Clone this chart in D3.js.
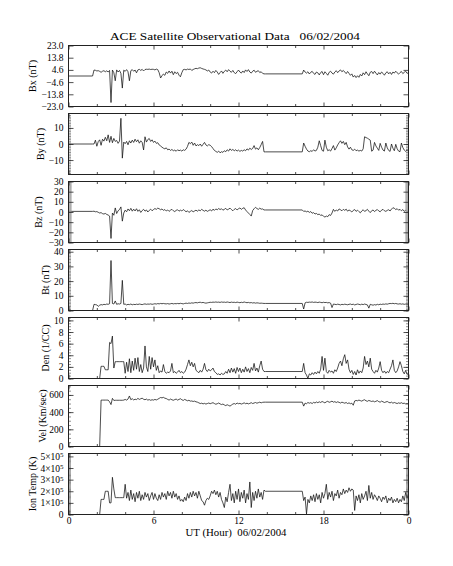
<!DOCTYPE html>
<html>
<head>
<meta charset="utf-8">
<script src="https://cdn.jsdelivr.net/npm/d3@7"></script>
<style>
    body { margin: 0; background: #fff; }
    svg { display: block; }
    text { font-family: "Liberation Serif", "DejaVu Serif", serif; fill: #000; }
</style>
</head>
<body>
<div id="chart"></div>
<script>
var step = 0.1,
    magStart = 1.7,     // first value of each "A" array is the flat fill before data start
    plasmaStart = 2.2,
    partBStart = 16.5;  // after the data gap

var hourTicks = [0, 6, 12, 18, 24],
    hourMinorTicks = [2, 4, 8, 10, 14, 16, 20, 22];

// Bx (nT)
var bxA = [0, 4.5, 4.3, 3.8, 4.0, 3.5, 2.8, 3.6, 4.0, 3.2,
    3.9, 3.0, 4.2, -20, 4.5, 2.5, -3.6, 4.6, 3.0, 4.2,
    2.0, -9.1, 4.4, 3.5, 4.8, 3.2, -3.6, 4.0, 4.8, 3.6,
    4.5, 2.4, 4.6, 5.0, 4.2, 5.0, 3.8, 4.9, 5.1, 5.0,
    5.2, 4.9, 5.1, 5.0, 4.6, 5.2, 4.8, 2.5, -1.5, 0.2,
    1.5, 0.5, 3.0, 2.0, 3.8, 2.2, 3.6, 1.0, 3.2, 1.8,
    2.8, 0.6, -0.6, 2.5, 4.8, 5.0, 4.6, 5.2, 4.9, 5.3,
    4.2, 4.9, 5.4, 5.8, 5.5, 6.0, 6.2, 5.7, 5.3, 5.0,
    4.6, 3.8, 4.5, 3.0, 2.2, 3.6, 2.5, 4.2, 3.0, 1.2,
    2.6, 3.8, 2.0, 3.5, 4.5, 3.2, 4.8, 3.6, 2.8, 4.2,
    2.5, 1.8, 3.2, 4.5, 3.0, 2.2, 3.8, 2.6, 4.6, 3.4,
    4.8, 3.0, 2.2, 3.6, 4.4, 2.8, 3.5, 4.0, 2.6, 3.2,
    2.0, 1.6, 1.6];
var bxB = [1.6, 4.5, 3.0, 2.2, 3.2, 1.5, 2.8, 3.5, 2.0, 1.2,
    3.0, 2.4, 0.8, 2.6, 3.4, 1.0, 3.2, 2.0, 0.6, 2.8,
    3.6, 2.2, 1.4, 3.0, 4.0, 2.5, 3.8, 4.6, 3.2, 4.2,
    3.0, 1.8, 3.4, 2.0, 0.5, 1.6, -0.8, 0.4, -1.2, 0.2,
    -1.0, 1.2, 0.0, 2.4, 1.0, 3.2, 1.6, 0.2, 2.8, 3.4,
    1.8, 3.6, 2.2, 0.8, 2.6, 1.4, 3.0, 2.0, 0.6, 2.4,
    3.2, 1.6, 2.8, 1.2, 3.0, 2.2, 3.6, 2.4, 1.4, 2.6,
    3.4, 1.8, 2.8, 3.6, 2.0, 2.6];

// By (nT)
var byA = [0, 0, 2.4, -1.4, 1.5, 2.6, -0.8, 3.0, 1.8, 4.2,
    2.0, 5.7, 1.0, 4.8, 0.8, 3.5, 1.6, 2.2, 0.4, 1.8,
    16, -8.8, 1.2, 0.2, 1.6, -0.5, 2.0, 0.6, 2.4, 1.0,
    3.0, 1.4, 2.6, 0.5, 2.0, 1.0, -3.7, 4.5, 1.2, 2.8,
    3.4, 1.6, 2.6, 1.0, 1.8, 0.4, 0.8, -0.6, -1.2, -2.0,
    -2.6, -3.0, -2.4, -3.6, -3.2, -4.0, -3.4, -4.2, -3.8, -4.5,
    -3.6, -4.2, -3.8, -4.4, -3.6, -4.0, -3.2, -1.5, 1.0, 0.2,
    1.2, -0.8, 0.6, -1.2, -0.4, -1.0, 0.0, -1.4, -0.2, 1.0,
    -0.6, -1.2, -0.4, -0.8, -1.6, -2.8, -4.0, -4.6, -5.2, -4.4,
    -5.5, -4.8, -5.2, -4.2, -4.8, -3.6, -4.4, -3.0, -4.0, -3.4,
    -4.2, -3.6, -4.4, -3.8, -4.6, -4.0, -4.4, -3.6, -4.2, -3.0,
    -3.8, -2.6, -3.4, -2.8, -1.0, -3.2, -2.4, -3.6, -2.2, -0.4,
    1.6, -4.9, -4.9];
var byB = [-4.9, 0.6, -1.4, -3.2, -4.4, -4.8, -4.2, -4.6, -3.6, -4.4,
    -4.0, -2.0, 2.0, -1.0, -4.0, -4.5, 2.4, -2.0, -4.2, -3.6,
    -4.4, -2.8, -1.0, -3.8, -2.4, -0.6, 0.8, 2.0, 0.4, 1.6,
    -0.4, 1.0, -1.8, -3.2, -2.0, -3.6, -4.0, -3.2, -4.2, -3.8,
    -4.4, -4.0, -4.4, -3.0, 4.5, 4.0, 3.6, 3.0, 2.4, -4.5,
    -3.8, 1.0, -1.2, -2.6, -4.0, 0.4, -2.0, -3.8, -4.4, 0.6,
    -2.4, -4.0, -4.6, 0.0, -2.6, -4.2, -0.2, -3.0, -4.4, -4.8,
    0.6, -2.2, -3.8, -4.6, -3.6, -4.5];

// Bz (nT)
var bzA = [0.6, 0.8, 0.2, 0.4, -0.3, -1.0, -0.6, -1.6, -2.0, -1.4,
    -2.4, -3.0, -4.0, -26, -1.0, -3.2, 4.0, -1.5, 1.2, 2.4,
    5.0, -9.0, -1.0, 1.8, 0.2, 3.0, 1.2, 3.6, 0.8, 2.8,
    1.0, 3.2, 0.6, 2.2, -0.4, 1.4, 2.6, 0.8, 2.0, 0.0,
    1.6, 2.8, 1.2, 2.4, 3.4, 2.6, 3.8, 3.2, 2.2, 3.0,
    1.6, 2.4, 1.0, 2.0, 0.6, 1.8, 2.6, 1.2, 0.4, 1.6,
    2.2, 0.8, 1.8, 1.0, 2.4, 1.4, 0.2, 1.2, -0.4, 0.6,
    1.4, 0.2, 1.0, 1.8, 0.8, 2.0, 1.2, 2.6, 1.6, 0.8,
    1.8, 0.6, 1.4, 2.2, 1.0, 2.8, 1.6, 3.0, 2.2, 3.4,
    2.4, 3.2, 1.8, 2.6, 3.6, 2.0, 2.8, 3.8, 2.4, 1.2,
    2.6, 3.4, 2.0, 3.2, 4.0, 2.6, 3.6, 4.2, 2.0, 0.4,
    -1.0, -2.4, -4.0, 1.4, 3.2, 4.6, 3.4, 2.6, 3.8, 2.8,
    3.0, 2.0, 2.0];
var bzB = [2.0, 0.6, 1.0, 0.2, 0.8, -0.4, 0.4, -1.2, -0.6, -2.0,
    -1.4, -2.6, -2.0, -3.4, -2.8, -4.2, -5.0, -4.0, -4.6, -2.6,
    -3.4, -1.0, 2.6, 0.6, 2.0, 1.0, 3.0, 2.2, 1.2, 2.6,
    1.6, 2.8, 0.8, 2.0, 1.2, 0.0, 1.6, 2.4, 0.6, 1.8,
    0.4, -0.8, 1.0, 2.2, 0.6, 1.4, 2.6, 0.8, -0.6, 1.2,
    2.0, 0.4, 1.6, 2.4, 1.0, 0.2, 1.8, 2.6, 1.2, 0.6,
    1.6, 2.2, 1.0, 2.8, 4.2, 3.6, 2.4, 3.2, 1.8, 2.6,
    1.2, 2.4, 0.6, 1.8, 0.4, 1.4];

// Bt (nT)
var btA = [0, 4.2, 4.0, 3.8, 2.8, 3.6, 4.0, 3.8, 4.2, 4.0,
    4.4, 4.2, 4.6, 34, 4.8, 4.4, 6.5, 4.2, 4.6, 4.4,
    4.8, 20.5, 4.2, 4.4, 3.8, 4.2, 4.0, 4.4, 3.9, 4.2,
    4.0, 4.3, 4.1, 4.4, 4.2, 4.0, 4.3, 4.5, 4.2, 4.4,
    4.3, 4.5, 4.2, 4.4, 4.6, 4.4, 4.7, 4.5, 4.8, 4.6,
    4.8, 4.6, 4.5, 4.7, 4.4, 4.6, 4.8, 4.5, 4.7, 4.6,
    4.8, 4.6, 4.9, 4.7, 4.5, 4.8, 5.0, 4.8, 5.1, 4.9,
    5.2, 5.0, 5.3, 5.4, 5.2, 5.5, 5.6, 5.3, 5.5, 5.2,
    5.0, 5.2, 5.4, 5.6, 5.5, 5.7, 5.6, 5.8, 5.6, 5.7,
    5.5, 5.8, 5.6, 5.7, 5.5, 5.8, 5.6, 5.4, 5.7, 5.5,
    5.6, 5.4, 5.7, 5.5, 5.3, 5.6, 5.4, 5.8, 5.5, 5.3,
    5.5, 5.2, 5.4, 5.1, 5.3, 5.0, 5.2, 5.1, 4.9, 5.0,
    4.9, 4.8, 4.8];
var btB = [4.8, 1.0, 5.2, 5.6, 5.5, 5.7, 5.6, 5.8, 5.5, 5.7,
    5.6, 5.4, 5.7, 5.5, 5.3, 5.6, 5.4, 5.5, 5.2, 5.4,
    5.0, 2.0, 4.4, 4.2, 4.0, 4.3, 4.1, 3.8, 4.2, 4.0,
    4.3, 4.1, 3.9, 4.2, 4.4, 4.0, 4.3, 3.8, 4.1, 4.4,
    4.2, 3.9, 4.3, 4.0, 4.4, 4.1, 3.8, 1.6, 4.2, 3.9,
    3.6, 4.0, 3.7, 4.2, 3.9, 4.3, 4.1, 4.4, 4.2, 4.5,
    4.3, 4.6, 4.8, 4.7, 4.9, 4.6, 4.8, 4.5, 4.4, 4.6,
    4.3, 4.5, 4.2, 4.4, 4.3, 4.3];

// Density (1/cc)
var denA = [0, 2.1, 2.1, 2.1, 1.5, 1.5, 1.5, 6.2, 6.0, 7.3,
    1.8, 2.9, 2.9, 2.9, 2.9, 2.9, 2.9, 2.9, 0.9, 2.8,
    1.2, 3.4, 1.0, 3.0, 1.4, 3.5, 1.6, 3.6, 1.2, 2.4,
    1.0, 1.8, 5.6, 2.0, 1.2, 3.8, 1.6, 3.6, 2.0, 3.2,
    1.4, 2.2, 1.0, 1.3, 1.1, 2.4, 1.2, 0.9, 1.1, 1.0,
    1.3, 2.6, 1.0, 1.2, 0.9, 1.1, 1.4, 1.0, 1.2, 0.9,
    1.1, 1.6, 2.4, 3.2, 2.2, 2.8, 2.0, 2.6, 1.4, 1.2,
    1.0, 1.4, 1.1, 1.6, 2.6, 1.5, 1.2, 1.6, 1.3, 1.5,
    1.8, 1.2, 1.0, 0.7, 0.8, 0.6, 0.9, 0.7, 0.8, 1.2,
    0.9, 1.6, 1.0, 1.8, 1.1, 1.7, 0.9, 1.9, 1.2, 1.8,
    1.0, 1.6, 1.1, 2.0, 1.2, 1.7, 1.0, 1.9, 1.4, 2.6,
    1.3, 1.8, 1.1, 2.2, 3.0, 1.6, 1.2, 1.2];
var denB = [1.2, 2.6, 1.0, 0.6, 0.0, 0.8, 0.6, 1.0, 0.7, 1.1,
    0.8, 1.2, 0.9, 1.6, 3.8, 1.4, 3.5, 1.2, 0.9, 1.4,
    1.1, 1.3, 0.9, 1.5, 1.2, 1.8, 2.6, 3.0, 2.2, 3.4,
    4.1, 2.6, 3.2, 1.6, 1.0, 1.4, 0.7, 1.2, 0.6, 1.5,
    0.9, 1.3, 1.0, 1.8, 3.8, 2.4, 3.0, 2.0, 3.5, 1.6,
    1.2, 0.9, 1.4, 1.1, 1.8, 2.9, 1.4, 1.0, 1.3, 0.9,
    1.2, 1.0, 1.6, 2.2, 3.2, 1.4, 1.0, 1.3, 2.0, 2.9,
    2.2, 1.2, 0.8, 1.4, 0.7, 0.9];

// Velocity (km/s)
var velA = [0, 540, 540, 540, 540, 540, 540, 520, 488, 560,
    536, 538, 538, 538, 538, 538, 538, 540, 548, 540,
    552, 588, 545, 556, 542, 550, 546, 560, 548, 556,
    562, 550, 544, 552, 540, 546, 538, 544, 540, 548,
    542, 550, 560, 570, 566, 572, 562, 558, 548, 540,
    552, 544, 538, 546, 552, 540, 548, 556, 544, 536,
    548, 540, 532, 538, 528, 530, 524, 528, 520, 516,
    508, 500, 504, 496, 502, 494, 500, 506, 498, 504,
    510, 500, 492, 498, 506, 496, 488, 494, 484, 476,
    486, 478, 470, 482, 494, 500, 492, 506, 498, 502,
    494, 500, 508, 498, 504, 496, 502, 510, 500, 506,
    512, 504, 510, 516, 508, 514, 516, 516];
var velB = [516, 470, 505, 498, 512, 504, 510, 500, 514, 506,
    518, 510, 520, 512, 524, 516, 508, 520, 526, 514,
    520, 528, 516, 522, 512, 520, 514, 506, 516, 510,
    504, 512, 500, 508, 498, 504, 480, 530, 536, 532,
    540, 534, 528, 538, 544, 532, 526, 536, 530, 524,
    530, 520, 526, 534, 522, 516, 528, 520, 512, 518,
    524, 514, 508, 516, 504, 512, 506, 500, 508, 502,
    510, 500, 504, 496, 500, 496];

// Ion temperature (x 10^5 K)
var tempA = [0, 1.3, 1.3, 1.3, 2.0, 2.0, 2.0, 1.0, 1.0, 3.2,
    2.2, 1.45, 1.45, 1.45, 1.45, 1.45, 1.45, 1.45, 2.6, 1.4,
    1.9, 1.2, 2.1, 1.3, 1.8, 1.1, 1.9, 1.4, 2.0, 1.2,
    1.7, 1.3, 1.9, 1.5, 1.8, 1.2, 1.6, 1.9, 1.3, 1.8,
    1.4, 1.2, 1.7, 1.3, 1.9, 1.5, 1.8, 1.3, 2.0, 1.6,
    1.9, 1.4, 2.0, 1.5, 1.8, 1.3, 1.6, 1.15, 1.3, 1.1,
    1.5, 1.2, 1.8, 1.4, 1.9, 1.5, 2.0, 1.6, 1.9, 1.4,
    2.0, 1.6, 1.2, 1.1, 0.8, 1.2, 1.4, 1.3, 1.6, 2.0,
    1.8, 2.1, 1.7, 2.0, 1.5, 1.9, 1.3, 1.0, 0.6, 1.5,
    1.1, 1.9, 2.6, 1.2, 1.8, 1.0, 2.0, 1.3, 2.2, 1.1,
    1.9, 1.4, 2.1, 1.0, 1.8, 1.3, 2.8, 0.6, 1.9, 1.2,
    2.0, 1.4, 2.2, 1.5, 1.9, 1.3, 2.1, 2.0];
var tempB = [2.0, 1.2, 1.5, 0.05, 1.3, 1.0, 1.6, 1.2, 1.7, 1.1,
    1.8, 1.3, 1.7, 1.0, 1.9, 1.4, 1.8, 2.6, 1.3, 1.9,
    1.5, 2.0, 1.2, 1.8, 1.6, 2.1, 1.4, 1.9, 1.7, 2.2,
    1.8, 2.1, 1.9, 2.3, 2.0, 2.2, 2.1, 0.35, 1.6, 1.2,
    1.7, 1.0, 1.8, 1.3, 1.6, 2.0, 1.2, 2.5, 1.4, 1.9,
    1.3, 1.7, 1.5, 1.2, 1.6, 1.4, 1.1, 1.5, 1.3, 1.6,
    1.0, 1.4, 1.2, 1.5, 1.0, 1.3, 1.1, 1.4, 1.0, 1.3,
    1.1, 1.6, 1.2, 1.9, 1.4, 1.8];

var bxTicks = [-23, -13.8, -4.6, 4.6, 13.8, 23],
    byTicks = [-10, 0, 10],
    bzTicks = [-30, -20, -10, 0, 10, 20, 30],
    btTicks = [0, 10, 20, 30, 40],
    denTicks = [0, 2, 4, 6, 8, 10],
    velTicks = [0, 200, 400, 600],
    tempTicks = [0, 1, 2, 3, 4, 5];

function series( a, start, b ){
    var pts = [ [ 0, a[ 0 ] ] ];
    a.forEach( ( v, i ) => pts.push( [ start + i * step, v ] ) );
    b.forEach( ( v, i ) => pts.push( [ partBStart + i * step, v ] ) );
    return pts;
}

function minors( lo, hi, by ){
    return d3.range( Math.round( ( hi - lo ) / by ) + 1 ).map( i => +( lo + i * by ).toFixed( 3 ) );
}

var panels = [
    { title: 'Bx (nT)', pts: series( bxA, magStart, bxB ), domain: [ -23, 23 ], ticks: bxTicks, minor: [], fmt: d3.format( '.1f' ), tx: 32 },
    { title: 'By (nT)', pts: series( byA, magStart, byB ), domain: [ -19, 19 ], ticks: byTicks, minor: minors( -18, 18, 1 ), fmt: d3.format( 'd' ), tx: 40 },
    { title: 'Bz (nT)', pts: series( bzA, magStart, bzB ), domain: [ -30, 30 ], ticks: bzTicks, minor: minors( -30, 30, 0.5 ), fmt: d3.format( 'd' ), tx: 38, dense: true },
    { title: 'Bt (nT)', pts: series( btA, magStart, btB ), domain: [ 0, 41.5 ], ticks: btTicks, minor: minors( 0, 41, 1 ), fmt: d3.format( 'd' ), tx: 45 },
    { title: 'Den (1/CC)', pts: series( denA, plasmaStart, denB ), domain: [ 0, 10.5 ], ticks: denTicks, minor: minors( 0, 10.5, 0.5 ), fmt: d3.format( 'd' ), tx: 45 },
    { title: 'Vel (Km/sec)', pts: series( velA, plasmaStart, velB ), domain: [ 0, 710 ], ticks: velTicks, minor: minors( 0, 700, 50 ), fmt: d3.format( 'd' ), tx: 42 },
    { title: 'Ion Temp (K)', pts: series( tempA, plasmaStart, tempB ), domain: [ 0, 5.25 ], ticks: tempTicks, minor: minors( 0, 5.2, 0.1 ), fmt: d3.format( 'd' ), tx: 32, sci: true }
];

//////////////////////////////////////////
// Layout

var width = 453, height = 566,
    left = 68.5, right = 408.5,
    firstTop = 45.5, pitch = 68, ph = 61;

var svg = d3.select( '#chart' ).append( 'svg' )
    .attr( 'width', width )
    .attr( 'height', height );

var x = d3.scaleLinear().domain( [ 0, 24 ] ).range( [ left, right ] );

svg.append( 'text' )
    .attr( 'x', 110 )
    .attr( 'y', 40 )
    .attr( 'textLength', 250 )
    .attr( 'lengthAdjust', 'spacingAndGlyphs' )
    .style( 'font-size', '11px' )
    .style( 'white-space', 'pre' )
    .text( 'ACE Satellite Observational Data   06/02/2004' );

panels.forEach( ( p, i ) => {
    var top = firstTop + i * pitch,
        bottom = top + ph,
        y = d3.scaleLinear().domain( p.domain ).range( [ bottom, top ] ),
        g = svg.append( 'g' );

    g.append( 'clipPath' )
        .attr( 'id', 'clip' + i )
        .append( 'rect' )
        .attr( 'x', left ).attr( 'y', top )
        .attr( 'width', right - left ).attr( 'height', ph );

    g.append( 'path' )
        .datum( p.pts )
        .attr( 'clip-path', 'url(#clip' + i + ')' )
        .attr( 'fill', 'none' )
        .attr( 'stroke', '#111' )
        .attr( 'stroke-width', 0.75 )
        .attr( 'd', d3.line().x( d => x( d[ 0 ] ) ).y( d => y( d[ 1 ] ) ) );

    // y minor ticks (both sides)
    var mLen = p.dense ? 3 : 2.5;
    [ [ d3.axisLeft, left ], [ d3.axisRight, right ] ].forEach( ( [ ax, pos ] ) => {
        var m = g.append( 'g' )
            .attr( 'transform', 'translate(' + pos + ',0)' )
            .call( ax( y ).tickValues( p.minor ).tickSize( -mLen ).tickFormat( '' ) );
        m.select( '.domain' ).remove();
        m.selectAll( 'line' ).attr( 'stroke', p.dense ? '#999' : '#444' ).attr( 'stroke-width', 0.6 );
    } );

    // y major ticks
    var yl = g.append( 'g' )
        .attr( 'transform', 'translate(' + left + ',0)' )
        .call( d3.axisLeft( y ).tickValues( p.ticks ).tickSize( -5 ).tickPadding( 5 ).tickFormat( p.fmt ) );
    var yr = g.append( 'g' )
        .attr( 'transform', 'translate(' + right + ',0)' )
        .call( d3.axisRight( y ).tickValues( p.ticks ).tickSize( -5 ).tickFormat( '' ) );
    [ yl, yr ].forEach( a => {
        a.select( '.domain' ).remove();
        a.selectAll( 'line' ).attr( 'stroke', '#222' ).attr( 'stroke-width', 0.8 );
    } );
    yl.selectAll( 'text' )
        .style( 'font-size', '9.5px' )
        .style( 'font-family', '"Liberation Serif", serif' )
        .text( d => ( d < 0 ? '\u2212' + p.fmt( -d ) : p.fmt( d ) ) );

    if( p.sci ){
        yl.selectAll( 'text' ).each( function( d ){
            var t = d3.select( this ).text( d ? d + '\u00d710' : '0' );
            if( d ){
                t.append( 'tspan' )
                    .attr( 'dy', '-0.35em' )
                    .style( 'font-size', '7px' )
                    .text( '5' );
            }
        } );
    }

    // x ticks top and bottom
    [ [ d3.axisTop, top ], [ d3.axisBottom, bottom ] ].forEach( ( [ ax, pos ] ) => {
        var last = ( ax === d3.axisBottom && i === panels.length - 1 );
        var a1 = g.append( 'g' )
            .attr( 'transform', 'translate(0,' + pos + ')' )
            .call( ax( x ).tickValues( hourTicks ).tickSize( -4 ).tickPadding( 3 )
                .tickFormat( last ? ( d => d % 24 ) : '' ) );
        var a2 = g.append( 'g' )
            .attr( 'transform', 'translate(0,' + pos + ')' )
            .call( ax( x ).tickValues( hourMinorTicks ).tickSize( -2.5 ).tickFormat( '' ) );
        [ a1, a2 ].forEach( a => {
            a.select( '.domain' ).remove();
            a.selectAll( 'line' ).attr( 'stroke', '#222' ).attr( 'stroke-width', 0.8 );
        } );
        a1.selectAll( 'text' ).style( 'font-size', '9.5px' );
    } );

    // frame
    g.append( 'rect' )
        .attr( 'x', left ).attr( 'y', top )
        .attr( 'width', right - left ).attr( 'height', ph )
        .attr( 'fill', 'none' )
        .attr( 'stroke', '#222' )
        .attr( 'stroke-width', 1 );

    // axis title
    g.append( 'text' )
        .attr( 'transform', 'translate(' + p.tx + ',' + ( top + ph / 2 ) + ') rotate(-90)' )
        .attr( 'text-anchor', 'middle' )
        .attr( 'dy', '0.35em' )
        .style( 'font-size', '10px' )
        .text( p.title );
} );

svg.append( 'text' )
    .attr( 'x', 185.5 )
    .attr( 'y', 535.5 )
    .attr( 'textLength', 101 )
    .attr( 'lengthAdjust', 'spacingAndGlyphs' )
    .style( 'font-size', '10px' )
    .style( 'white-space', 'pre' )
    .text( 'UT (Hour)  06/02/2004' );
</script>
</body>
</html>
